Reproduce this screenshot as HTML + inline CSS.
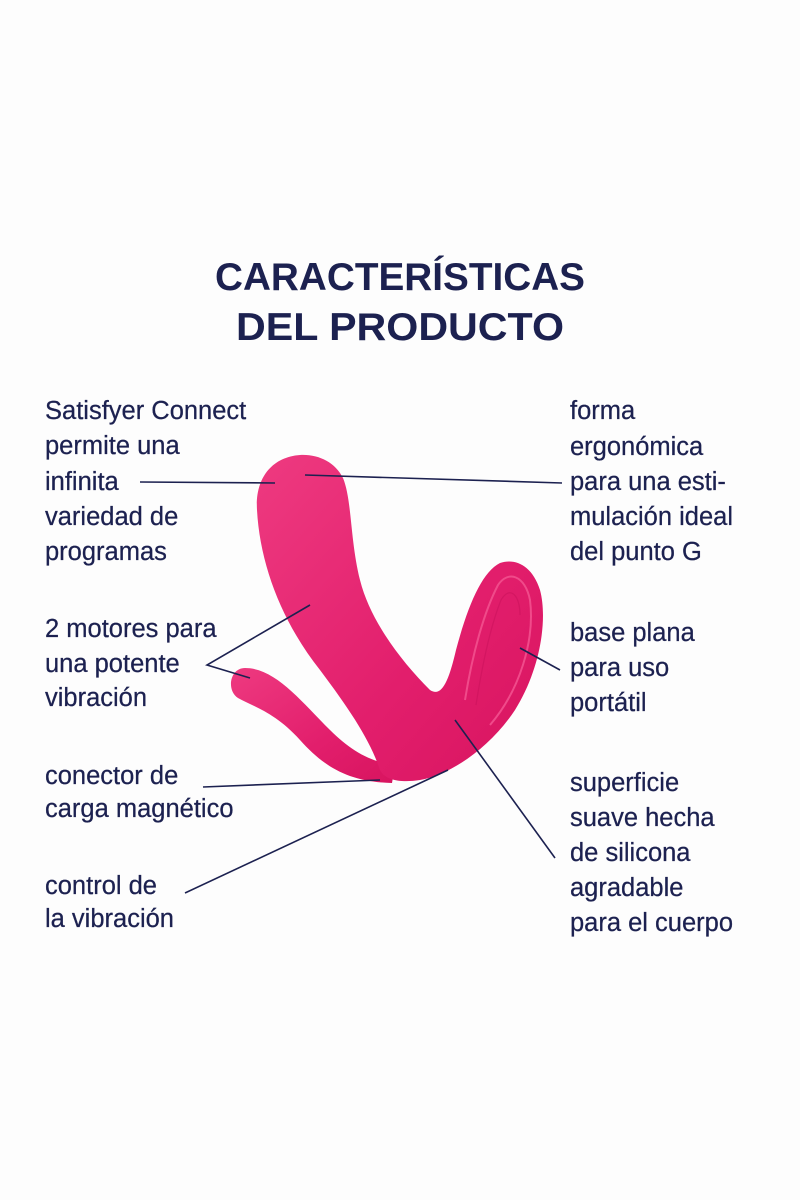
<!DOCTYPE html>
<html><head><meta charset="utf-8"><style>
html,body{margin:0;padding:0;background:#fff;}
svg{display:block}
text{font-family:"Liberation Sans",sans-serif;fill:#1c2150;}
.t{font-weight:bold;font-size:39px;}
.b{font-size:25.5px;stroke:#1c2150;stroke-width:0.25px;}
</style></head><body>
<svg width="800" height="1200" viewBox="0 0 800 1200">
<rect width="800" height="1200" fill="#fdfdfd"/>
<defs>
<linearGradient id="g" x1="0" y1="0" x2="1" y2="1">
<stop offset="0" stop-color="#ee3a80"/><stop offset="0.6" stop-color="#e21e6c"/><stop offset="1" stop-color="#d8145f"/>
</linearGradient>
</defs>
<text class="t" x="400" y="290" text-anchor="middle" textLength="370" lengthAdjust="spacingAndGlyphs">CARACTERÍSTICAS</text>
<text class="t" x="400" y="340" text-anchor="middle" textLength="328" lengthAdjust="spacingAndGlyphs">DEL PRODUCTO</text>

<!-- product -->
<path d="M245,668 C230,668 226,690 238,698 C252,706 275,712 300,740 C325,768 350,782 392,783 L395,765 C370,762 350,750 330,730 C300,700 275,668 245,668 Z" fill="url(#g)"/>
<path d="M300,455 C272,457 255,478 257,510 C260,565 282,622 320,670 C350,710 370,740 380,770 C385,780 400,783 420,780 C450,775 490,748 515,710 C540,670 548,620 540,590 C532,565 515,558 500,563 C482,572 468,605 456,650 C449,680 442,698 430,690 C400,660 370,620 360,580 C350,540 352,500 343,478 C335,462 318,454 300,455 Z" fill="url(#g)"/>
<path d="M465,700 C473,650 485,610 498,585 C508,570 525,575 530,600 C535,640 520,690 490,725" fill="none" stroke="#f04a8a" stroke-width="2"/>
<path d="M476,705 C483,660 491,625 501,600 C510,585 520,595 520,615" fill="none" stroke="#c8105a" stroke-width="1.2" opacity="0.5"/>

<!-- connector lines -->
<g stroke="#1c2150" stroke-width="1.6" fill="none">
<line x1="140" y1="482" x2="275" y2="483"/>
<line x1="305" y1="475" x2="562" y2="483"/>
<polyline points="310,605 207,665 250,678"/>
<line x1="520" y1="648" x2="560" y2="670"/>
<line x1="203" y1="787" x2="380" y2="780"/>
<line x1="185" y1="893" x2="448" y2="770"/>
<line x1="455" y1="720" x2="555" y2="858"/>
</g>

<text class="b" x="45" y="419">Satisfyer Connect</text>
<text class="b" x="45" y="454">permite una</text>
<text class="b" x="45" y="490">infinita</text>
<text class="b" x="45" y="525">variedad de</text>
<text class="b" x="45" y="560">programas</text>
<text class="b" x="45" y="637">2 motores para</text>
<text class="b" x="45" y="672">una potente</text>
<text class="b" x="45" y="706">vibración</text>
<text class="b" x="45" y="784">conector de</text>
<text class="b" x="45" y="817">carga magnético</text>
<text class="b" x="45" y="894">control de</text>
<text class="b" x="45" y="927">la vibración</text>

<text class="b" x="570" y="419">forma</text>
<text class="b" x="570" y="455">ergonómica</text>
<text class="b" x="570" y="490">para una esti-</text>
<text class="b" x="570" y="525">mulación ideal</text>
<text class="b" x="570" y="560">del punto G</text>
<text class="b" x="570" y="641">base plana</text>
<text class="b" x="570" y="676">para uso</text>
<text class="b" x="570" y="711">portátil</text>
<text class="b" x="570" y="791">superficie</text>
<text class="b" x="570" y="826">suave hecha</text>
<text class="b" x="570" y="861">de silicona</text>
<text class="b" x="570" y="896">agradable</text>
<text class="b" x="570" y="931">para el cuerpo</text>
</svg>
</body></html>
